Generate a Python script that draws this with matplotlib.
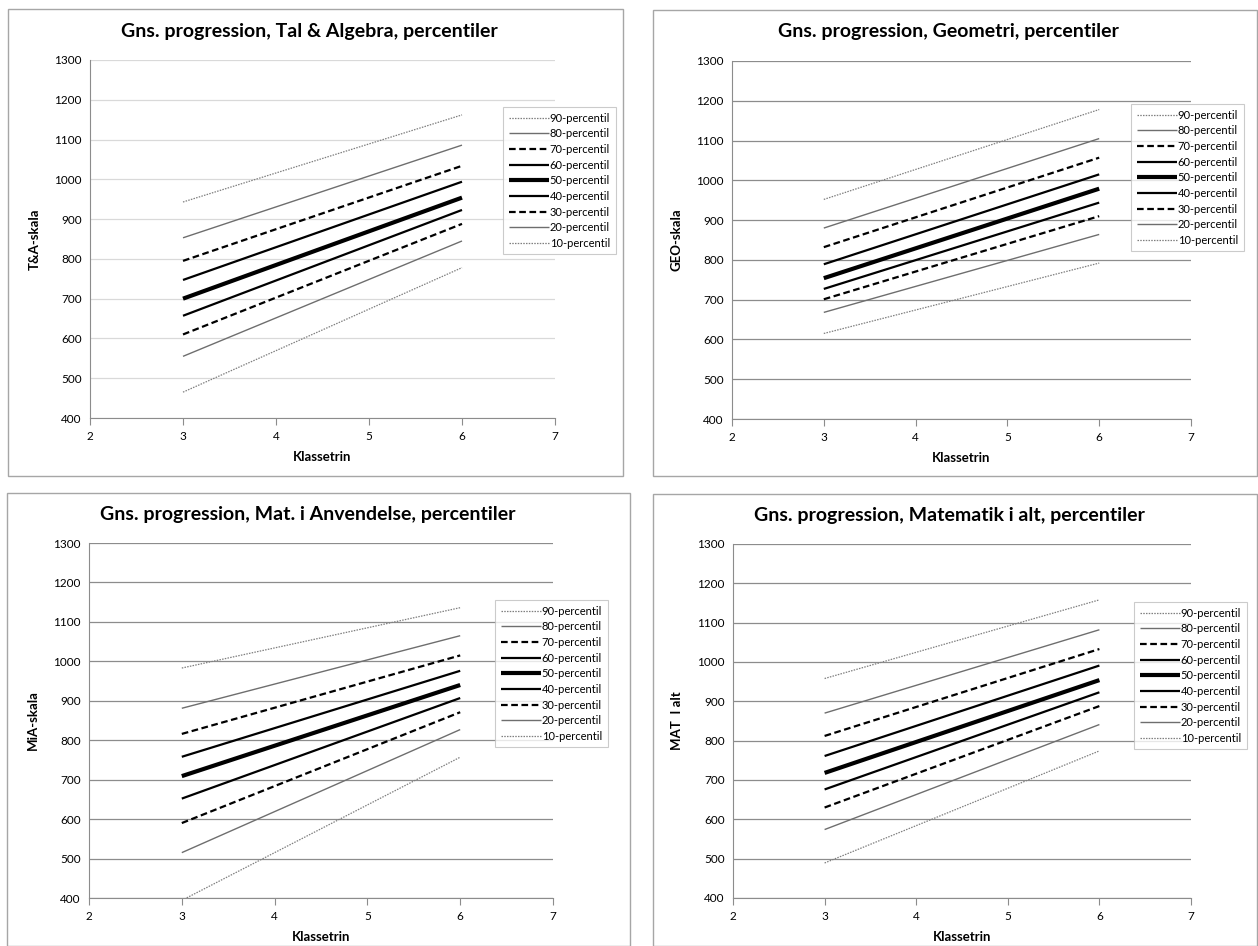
import matplotlib
matplotlib.use('Agg')
import matplotlib.pyplot as plt
from matplotlib.patches import Rectangle

plt.rcParams['font.family'] = ['Lato', 'DejaVu Sans']

W, H = 1258, 946

# klassetrin
grades = [3, 6]
percentiles = ['90', '80', '70', '60', '50', '40', '30', '20', '10']

# værdier ved 3. og 6. klasse, 90 -> 10 percentil
ta_start = [943, 853, 795, 747, 700, 657, 610, 555, 465]
ta_end = [1162, 1086, 1034, 994, 954, 923, 888, 845, 778]

geo_start = [952, 880, 832, 789, 754, 727, 701, 668, 615]
geo_end = [1178, 1105, 1057, 1015, 979, 944, 910, 864, 792]

mia_start = [983, 881, 816, 758, 709, 652, 590, 515, 394]
mia_end = [1136, 1065, 1015, 976, 940, 907, 871, 827, 757]

mat_start = [958, 870, 812, 761, 718, 676, 630, 574, 489]
mat_end = [1158, 1082, 1033, 991, 954, 923, 888, 841, 774]

# stil pr. percentil
styles = {
    '90': dict(color='#7f7f7f', lw=0.9, ls=(0, (1.2, 1.0))),
    '80': dict(color='#6e6e6e', lw=1.0, ls='-'),
    '70': dict(color='black', lw=1.6, ls=(0, (3, 1.6))),
    '60': dict(color='black', lw=1.6, ls='-'),
    '50': dict(color='black', lw=3.0, ls='-'),
    '40': dict(color='black', lw=1.6, ls='-'),
    '30': dict(color='black', lw=1.6, ls=(0, (3, 1.6))),
    '20': dict(color='#6e6e6e', lw=1.0, ls='-'),
    '10': dict(color='#7f7f7f', lw=0.9, ls=(0, (1.2, 1.0))),
}

panels = [
    dict(title='Gns. progression, Tal & Algebra, percentiler', ylabel='T&A-skala',
         start=ta_start, end=ta_end, frame=(8, 9, 623, 476), ax=(90, 60, 555, 418),
         leg=(503, 107, 625, 259), grid='#d9d9d9'),
    dict(title='Gns. progression, Geometri, percentiler', ylabel='GEO-skala',
         start=geo_start, end=geo_end, frame=(653, 10, 1257, 476), ax=(732, 61, 1191, 419),
         leg=(1131, 104, 1258, 254), grid='#8c8c8c'),
    dict(title='Gns. progression, Mat. i Anvendelse, percentiler', ylabel='MiA-skala',
         start=mia_start, end=mia_end, frame=(7, 493, 630, 946), ax=(89, 543, 553, 898),
         leg=(495, 600, 623, 750), grid='#8c8c8c'),
    dict(title='Gns. progression, Matematik i alt, percentiler', ylabel='MAT  I alt',
         start=mat_start, end=mat_end, frame=(653, 494, 1257, 946), ax=(733, 544, 1191, 898),
         leg=(1134, 602, 1258, 752), grid='#8c8c8c'),
]

fig = plt.figure(figsize=(W / 100, H / 100), dpi=100)


def fx(px):
    return px / W


def fy(py):
    return 1 - py / H


for p in panels:
    x0, y0, x1, y1 = p['frame']
    fig.patches.append(Rectangle((fx(x0), fy(y1)), fx(x1 - x0), (y1 - y0) / H,
                                 transform=fig.transFigure, fill=False,
                                 edgecolor='#a6a6a6', lw=1.0))

    l, t, r, b = p['ax']
    ax = fig.add_axes([fx(l), fy(b), fx(r - l), (b - t) / H])
    for i, pc in enumerate(percentiles):
        ax.plot(grades, [p['start'][i], p['end'][i]], label=f'{pc}-percentil',
                solid_capstyle='butt', **styles[pc])

    ax.set_xlim(2, 7)
    ax.set_ylim(400, 1300)
    ax.set_xticks(range(2, 8))
    ax.set_yticks(range(400, 1301, 100))
    ax.yaxis.grid(True, color=p['grid'], lw=0.9)
    ax.set_axisbelow(True)
    for s in ['top', 'right']:
        ax.spines[s].set_visible(False)
    for s in ['left', 'bottom']:
        ax.spines[s].set_color('#8c8c8c')
    ax.tick_params(axis='x', direction='out', length=5, color='#8c8c8c', labelsize=8.5, pad=4)
    ax.tick_params(axis='y', length=0, labelsize=8.5, pad=6)

    ax.set_xlabel('Klassetrin', fontsize=9.5, fontweight='bold', labelpad=7)
    ax.set_ylabel(p['ylabel'], fontsize=9.5, fontweight='bold', labelpad=10)
    fig.text(fx((l + r) / 2 - 13), fy(t - 29), p['title'], ha='center', va='center',
             fontsize=14, fontweight='bold')

    lx0, ly0, lx1, ly1 = p['leg']
    leg = ax.legend(loc='upper left', bbox_to_anchor=(fx(lx0), fy(ly0)),
                    bbox_transform=fig.transFigure, fontsize=8, frameon=True,
                    fancybox=False, edgecolor='#bfbfbf', handlelength=3.6,
                    handletextpad=0.1, labelspacing=0.42, borderpad=0.5,
                    borderaxespad=0)
    leg.get_frame().set_linewidth(0.8)

fig.savefig('out.png', dpi=100)
